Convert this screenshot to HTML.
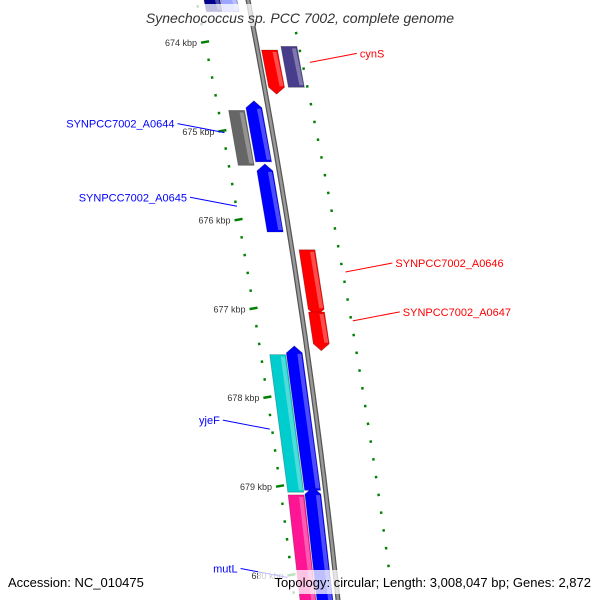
<!DOCTYPE html>
<html><head><meta charset="utf-8"><style>
body{margin:0;background:#fff;}
svg{display:block;font-family:"Liberation Sans","DejaVu Sans",sans-serif;}
</style></head><body>
<svg id="map" width="600" height="600" viewBox="0 0 600 600">
<g id="ticks"></g>
<g id="backbone"></g>
<g id="features"></g>
<g id="labels"></g>
<rect x="130" y="4" width="340" height="22" fill="#fff" opacity="0.75"/>
<text x="300" y="23" text-anchor="middle" font-size="14" font-style="italic" fill="#333">Synechococcus sp. PCC 7002, complete genome</text>
<rect x="4" y="570" width="150" height="24" fill="#fff" opacity="0.75"/>
<text x="8" y="587" font-size="13" fill="#000">Accession: NC_010475</text>
<rect x="258" y="570" width="338" height="24" fill="#fff" opacity="0.75"/>
<text x="591" y="587" font-size="13" text-anchor="end" fill="#000">Topology: circular; Length: 3,008,047 bp; Genes: 2,872</text>
</svg>
<script>
const tickKbp=[674,675,676,677,678,679,680];
const featStart=[673.41,673.41,674.09,674.05,674.77,674.73,675.44,676.34,677.04,677.52,677.49,679.10,679.08];
const featEnd=[673.66,673.66,674.52,674.51,675.39,675.35,676.14,677.02,677.41,679.07,679.05,680.4,680.4];
const featOffset=[-36,-19,12,32,-32,-14,-14,15,15,-30,-13,-30,-13];
const featStrand=[0,0,-1,0,0,1,1,-1,-1,0,1,0,1];
const featColor=["#00008b","#9aa6ff","#ff0000","#483d8b","#666666","#0000ff","#0000ff","#ff0000","#ff0000","#00cdcd","#0000ff","#ff1493","#0000ff"];
const labelText=["cynS","SYNPCC7002_A0644","SYNPCC7002_A0645","SYNPCC7002_A0646","SYNPCC7002_A0647","yjeF","mutL"];
const labelKbp=[674.23,675.02,675.85,676.59,677.14,678.36,680.03];
const labelSide=[1,-1,-1,1,1,-1,-1];
const labelColor=["#ff0000","#0000ff","#0000ff","#ff0000","#ff0000","#0000ff","#0000ff"];
const NS="http://www.w3.org/2000/svg";
function yOf(k){return 42+(k-674)*88.8;}
function bx(y){return 248+0.1946*y-0.0000743*y*y;}
function mk(tag,attrs,parent){const e=document.createElementNS(NS,tag);for(const a in attrs)e.setAttribute(a,attrs[a]);parent.appendChild(e);return e;}
// backbone
const bb=document.getElementById('backbone');let pts=[];
for(let y=-5;y<=605;y+=10)pts.push(bx(y).toFixed(1)+','+y);
const bl=mk('polyline',{points:pts.join(' '),fill:'none',stroke:'#555',"stroke-width":5},bb);


const bl2=mk('polyline',{points:pts.join(' '),fill:'none',stroke:'#999',"stroke-width":2.5},bb);


// ticks
const tg=document.getElementById('ticks');
function innerOff(y){return -51+6*(y-42)/444;}
function outerOff(y){return 42+10*(y-42)/430;}
for(let k=673.4;k<=680.6;k+=0.2){
  const kk=Math.round(k*10)/10;const y=yOf(kk);const major=Math.abs(kk-Math.round(kk))<0.01;
  const xi=bx(y)+innerOff(y);
  const t=mk('line',{x1:xi-(major?4:1.2),y1:y+(major?0.7:0.2),x2:xi+(major?4:1.2),y2:y-(major?0.7:0.2),stroke:'#008000',"stroke-width":2.5},tg);
  
  
  const ko=Math.round((kk+0.1)*10)/10;const yo=yOf(ko);const xo=bx(yo)+outerOff(yo);
  const majO=Math.abs(ko-Math.round(ko)-0.4)<0.01||Math.abs(ko-Math.round(ko)+0.6)<0.01;
  const t2=mk('line',{x1:xo-(majO?4:1.2),y1:yo+(majO?0.7:0.2),x2:xo+(majO?4:1.2),y2:yo-(majO?0.7:0.2),stroke:'#008000',"stroke-width":2.5},tg);
  
  
}
tickKbp.forEach(k=>{const y=yOf(k);const x=bx(y)+innerOff(y)-8;
  const t=mk('text',{x:x,y:y+4,"text-anchor":"end","font-size":9,fill:'#333'},tg);t.textContent=k+' kbp';
  
  
});
// features
const fg=document.getElementById('features');const W=16;
for(let i=0;i<featStart.length;i++){
  const y1=yOf(featStart[i]),y2=yOf(featEnd[i]);const o=featOffset[i];
  const l1=bx(y1)+o-W/2,r1=bx(y1)+o+W/2,l2=bx(y2)+o-W/2,r2=bx(y2)+o+W/2;
  let p;
  if(featStrand[i]===1){const a=6;p=[[ (l1+r1)/2,y1-a],[r1,y1+1],[r2,y2],[l2,y2],[l1,y1+1]];}
  else if(featStrand[i]===-1){const a=6;p=[[l1,y1],[r1,y1],[r2,y2-1],[(l2+r2)/2,y2+a],[l2,y2-1]];}
  else p=[[l1,y1],[r1,y1],[r2,y2],[l2,y2]];
  const g=mk('g',{},fg);
  
  
  mk('polygon',{points:p.map(q=>q[0].toFixed(1)+','+q[1].toFixed(1)).join(' '),fill:featColor[i],stroke:'rgba(0,0,0,0.25)',"stroke-width":0.8},g);
  mk('polygon',{points:[[r1-5,y1+2],[r1-1,y1+2],[r2-1,y2-2],[r2-5,y2-2]].map(q=>q[0].toFixed(1)+','+q[1].toFixed(1)).join(' '),fill:'#fff',opacity:0.3},g);
}
// labels
const lg=document.getElementById('labels');
for(let i=0;i<labelText.length;i++){
  const y=yOf(labelKbp[i]);const s=labelSide[i];
  const x0=bx(y)+(s>0?50:-48);const x1=x0+s*47;const y1=y-9*1;
  const ln=mk('line',{x1:x0,y1:y,x2:x1,y2:y1,stroke:labelColor[i],"stroke-width":1},lg);
  
  
  const t=mk('text',{x:x1+s*3,y:y1+4,"text-anchor":s>0?'start':'end',"font-size":11,fill:labelColor[i]},lg);
  t.textContent=labelText[i];
  
  
}
</script>
</body></html>
